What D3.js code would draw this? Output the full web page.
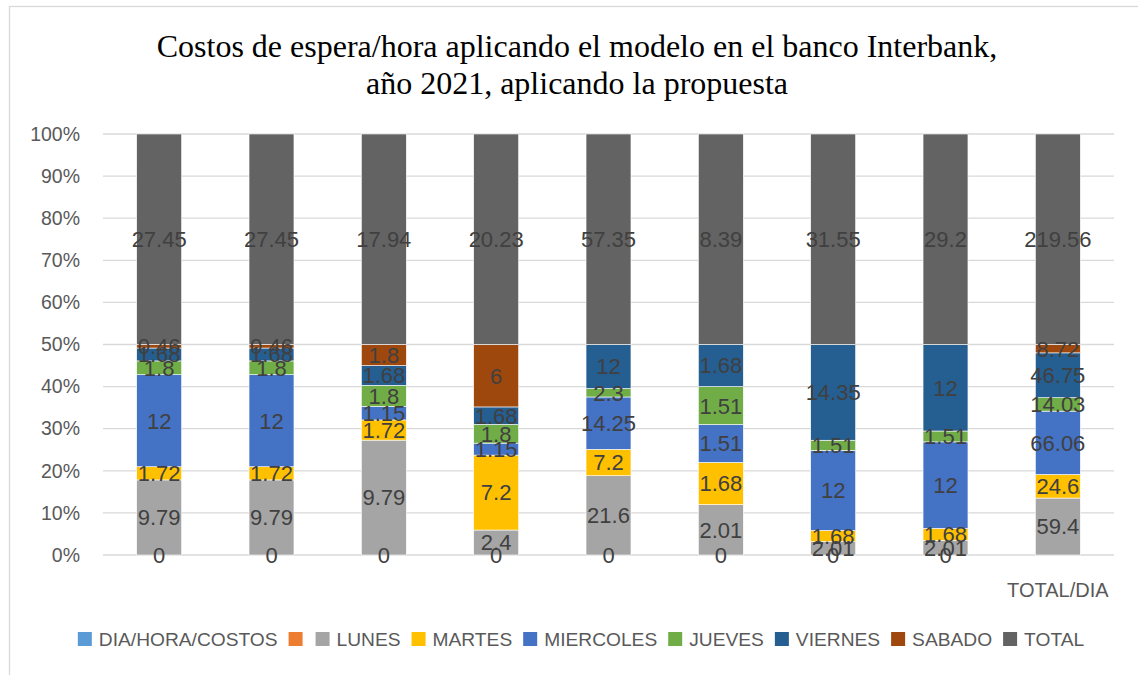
<!DOCTYPE html>
<html>
<head>
<meta charset="utf-8">
<script src="https://cdn.jsdelivr.net/npm/d3@7"></script>
<style>
  html, body { margin: 0; padding: 0; background: #fff; }
  svg { display: block; }
</style>
</head>
<body>
<svg id="chart" width="1138" height="675"></svg>
<script>
const titleLines = ["Costos de espera/hora aplicando el modelo en el banco Interbank,", "año 2021, aplicando la propuesta"];
const categories = ["", "", "", "", "", "", "", "", "TOTAL/DIA"];
const seriesNames = ["DIA/HORA/COSTOS", "", "LUNES", "MARTES", "MIERCOLES", "JUEVES", "VIERNES", "SABADO", "TOTAL"];
const seriesColors = ["#5B9BD5", "#ED7D31", "#A5A5A5", "#FFC000", "#4472C4", "#70AD47", "#255E91", "#9E480E", "#636363"];
const diaHoraCostos = [0, 0, 0, 0, 0, 0, 0, 0, null];
const blankSeries   = [null, null, null, null, null, null, null, null, null];
const lunes     = [9.79, 9.79, 9.79, 2.4, 21.6, 2.01, 2.01, 2.01, 59.4];
const martes    = [1.72, 1.72, 1.72, 7.2, 7.2, 1.68, 1.68, 1.68, 24.6];
const miercoles = [12, 12, 1.15, 1.15, 14.25, 1.51, 12, 12, 66.06];
const jueves    = [1.8, 1.8, 1.8, 1.8, 2.3, 1.51, 1.51, 1.51, 14.03];
const viernes   = [1.68, 1.68, 1.68, 1.68, 12, 1.68, 14.35, 12, 46.75];
const sabado    = [0.46, 0.46, 1.8, 6, null, null, null, null, 8.72];
const total     = [27.45, 27.45, 17.94, 20.23, 57.35, 8.39, 31.55, 29.2, 219.56];
const yTicks = [0, 0.1, 0.2, 0.3, 0.4, 0.5, 0.6, 0.7, 0.8, 0.9, 1];

const seriesValues = [diaHoraCostos, blankSeries, lunes, martes, miercoles, jueves, viernes, sabado, total];

const svg = d3.select("#chart");
const W = 1138, H = 675;
const margin = {left: 103, right: 24, top: 134, bottom: 120};
const plotW = W - margin.left - margin.right;
const plotH = H - margin.top - margin.bottom;
const sansFont = "'Liberation Sans', Arial, sans-serif";

// frame
svg.append("rect").attr("x", 9.5).attr("y", 6.5).attr("width", 1200).attr("height", 700)
  .attr("fill", "#fff").attr("stroke", "#d9d9d9").attr("stroke-width", 1.3);

// title
const title = svg.append("text").attr("text-anchor", "middle")
  .attr("font-family", "'Liberation Serif', 'Times New Roman', serif")
  .attr("font-size", 32).attr("fill", "#000");
titleLines.forEach((t, i) => {
  title.append("tspan").attr("x", 577).attr("y", 57 + i * 37).text(t);
});

// data rows
const rows = categories.map((c, i) => {
  const r = {idx: i};
  seriesNames.forEach((s, j) => { r["s" + j] = seriesValues[j][i] == null ? 0 : seriesValues[j][i]; });
  return r;
});
const keys = seriesNames.map((s, j) => "s" + j);
const stacked = d3.stack().keys(keys).offset(d3.stackOffsetExpand)(rows);

const x = d3.scaleBand().domain(d3.range(categories.length)).range([margin.left, margin.left + plotW]).paddingInner(0.6).paddingOuter(0.3);
const y = d3.scaleLinear().domain([0, 1]).range([margin.top + plotH, margin.top]);

const g = svg.append("g");

// gridlines
g.append("g").selectAll("line").data(yTicks).join("line")
  .attr("x1", margin.left).attr("x2", margin.left + plotW)
  .attr("y1", d => y(d)).attr("y2", d => y(d))
  .attr("stroke", "#d9d9d9").attr("stroke-width", 1.3);

// y axis labels
const yAxis = d3.axisLeft(y).tickValues(yTicks).tickFormat(d3.format(".0%")).tickSize(0).tickPadding(23);
const yg = g.append("g").attr("transform", `translate(${margin.left},0)`).call(yAxis);
yg.select(".domain").remove();
yg.selectAll("text").attr("font-family", sansFont).attr("font-size", 19.5).attr("fill", "#595959");

// x axis labels
const xAxis = d3.axisBottom(x).tickFormat(i => categories[i]).tickSize(0).tickPadding(28);
const xg = g.append("g").attr("transform", `translate(0,${margin.top + plotH})`).call(xAxis);
xg.select(".domain").remove();
xg.selectAll("text").attr("font-family", sansFont).attr("font-size", 20).attr("fill", "#595959");

// bars
const layers = g.append("g").selectAll("g").data(stacked).join("g")
  .attr("fill", (d, i) => seriesColors[i]);
layers.selectAll("rect").data(d => d).join("rect")
  .attr("x", d => x(d.data.idx))
  .attr("width", x.bandwidth())
  .attr("y", d => y(d[1]))
  .attr("height", d => Math.max(0, y(d[0]) - y(d[1])))
  .attr("stroke", "#fff").attr("stroke-width", 0.6);

// labels
const labelG = g.append("g");
stacked.forEach((layer, j) => {
  layer.forEach((d, i) => {
    const v = seriesValues[j][i];
    if (v == null) return;
    labelG.append("text")
      .attr("x", x(i) + x.bandwidth() / 2)
      .attr("y", y((d[0] + d[1]) / 2))
      .attr("dy", "0.36em")
      .attr("text-anchor", "middle")
      .attr("font-family", sansFont).attr("font-size", 22)
      .attr("fill", "#404040")
      .text(String(v));
  });
});

// legend
const legend = svg.append("g");
let cx = 0;
seriesNames.forEach((s, j) => {
  const it = legend.append("g");
  it.append("rect").attr("x", 0).attr("y", -14).attr("width", 14).attr("height", 14).attr("fill", seriesColors[j]);
  const t = it.append("text").attr("x", 21).attr("y", 0).attr("font-family", sansFont).attr("font-size", 19.2)
    .attr("fill", "#595959").text(s);
  const tw = s ? t.node().getComputedTextLength() : -5;
  it.attr("transform", `translate(${cx},0)`);
  cx += 21 + tw + 11;
});
const legW = cx - 11;
legend.attr("transform", `translate(${581 - legW / 2},646)`);
</script>
</body>
</html>
